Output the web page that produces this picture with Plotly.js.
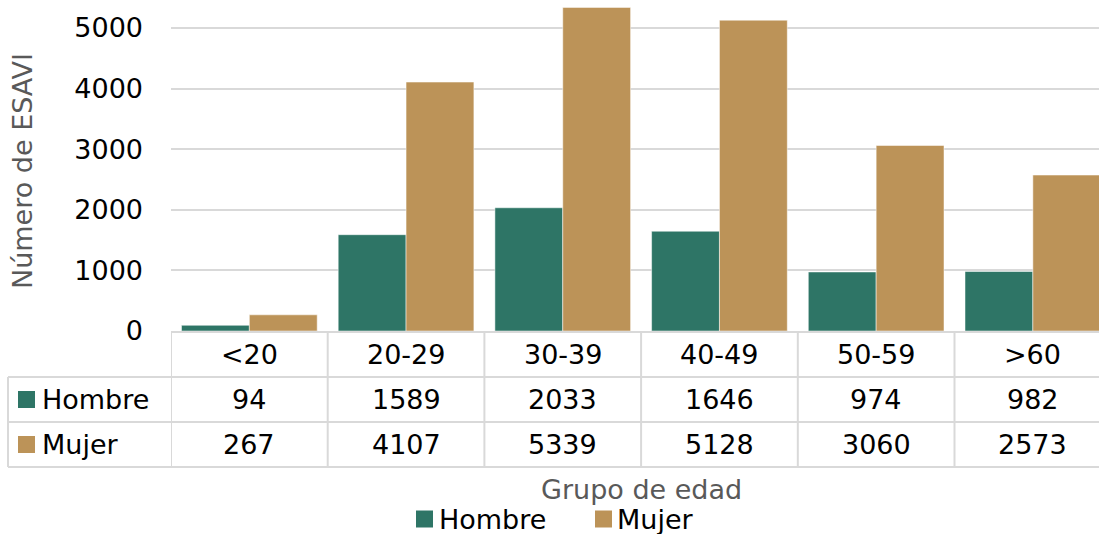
<!DOCTYPE html>
<html>
<head>
<meta charset="utf-8">
<script src="https://cdn.plot.ly/plotly-3.0.1.min.js"></script>
<style>html,body{margin:0;padding:0;background:#fff;}#chart{width:1099px;height:534px;}</style>
</head>
<body>
<div id="chart"></div>
<script>
var categories = ["<20", "20-29", "30-39", "40-49", "50-59", ">60"];
var seriesNames = ["Hombre", "Mujer"];
var hombre = [94, 1589, 2033, 1646, 974, 982];
var mujer = [267, 4107, 5339, 5128, 3060, 2573];
var yTickVals = [0, 1000, 2000, 3000, 4000, 5000];
var xTitle = "Grupo de edad";
var yTitle = "Número de ESAVI";
var colors = ["#2E7566", "#BC9358"];

var W = 1099, H = 534;
var L = 171, R = 0, T = 0, B = 203;
var pw = W - L - R, ph = H - T - B;
function xp(px) { return (px - L) / pw; }
function yp(py) { return (T + ph - py) / ph; }

var FONT = "DejaVu Sans, sans-serif";
var FS = 27;
var gridCol = "#d9d9d9";

var traces = [
  {type: "bar", name: seriesNames[0], x: categories, y: hombre,
   marker: {color: colors[0], line: {color: "#ffffff", width: 0.5}}},
  {type: "bar", name: seriesNames[1], x: categories, y: mujer,
   marker: {color: colors[1], line: {color: "#ffffff", width: 0.5}}}
];

var shapes = [];
var annotations = [];
var nCat = categories.length;
var rowTop = 331, rowHdr = 377, rowH = 422, rowM = 467;
var tableLeft = 8;

[rowHdr, rowH, rowM].forEach(function (py) {
  shapes.push({type: "line", xref: "paper", yref: "paper", x0: xp(tableLeft), x1: 1, y0: yp(py), y1: yp(py),
    line: {color: gridCol, width: 2}});
});
for (var i = 0; i <= nCat; i++) {
  shapes.push({type: "line", xref: "x", yref: "paper", x0: i - 0.5, x1: i - 0.5, y0: yp(rowTop), y1: yp(rowM),
    line: {color: gridCol, width: 2}});
}
shapes.push({type: "line", xref: "paper", yref: "paper", x0: xp(tableLeft), x1: xp(tableLeft), y0: yp(rowHdr), y1: yp(rowM),
  line: {color: gridCol, width: 2}});

var txtFont = {family: FONT, size: FS, color: "#000000"};
var rowCenters = [(rowHdr + rowH) / 2, (rowH + rowM) / 2];
var seriesData = [hombre, mujer];

categories.forEach(function (c, i) {
  annotations.push({xref: "x", yref: "paper", x: i, y: yp((rowTop + rowHdr) / 2), text: c, showarrow: false,
    xanchor: "center", yanchor: "middle", font: txtFont});
  seriesData.forEach(function (arr, s) {
    annotations.push({xref: "x", yref: "paper", x: i, y: yp(rowCenters[s]), text: String(arr[i]), showarrow: false,
      xanchor: "center", yanchor: "middle", font: txtFont});
  });
});

seriesNames.forEach(function (n, s) {
  var cy = rowCenters[s];
  shapes.push({type: "rect", xref: "paper", yref: "paper", x0: xp(18), x1: xp(35), y0: yp(cy + 8.5), y1: yp(cy - 8.5),
    fillcolor: colors[s], line: {width: 0}});
  annotations.push({xref: "paper", yref: "paper", x: xp(40), y: yp(cy), text: n, showarrow: false,
    xanchor: "left", yanchor: "middle", font: txtFont});
});

annotations.push({xref: "paper", yref: "paper", x: xp(641), y: yp(489), text: xTitle, showarrow: false,
  xanchor: "center", yanchor: "middle", font: {family: FONT, size: FS, color: "#595959"}});
annotations.push({xref: "paper", yref: "paper", x: xp(22), y: yp(171), text: yTitle, showarrow: false, textangle: -90,
  xanchor: "center", yanchor: "middle", font: {family: FONT, size: FS, color: "#595959"}});

var legItems = [{sq: 416, tx: 437}, {sq: 595, tx: 615}];
seriesNames.forEach(function (n, s) {
  var cy = 519;
  shapes.push({type: "rect", xref: "paper", yref: "paper", x0: xp(legItems[s].sq), x1: xp(legItems[s].sq + 17),
    y0: yp(cy + 8.5), y1: yp(cy - 8.5), fillcolor: colors[s], line: {width: 0}});
  annotations.push({xref: "paper", yref: "paper", x: xp(legItems[s].tx), y: yp(cy), text: n, showarrow: false,
    xanchor: "left", yanchor: "middle", font: txtFont});
});

var layout = {
  width: W, height: H,
  margin: {l: L, r: R, t: T, b: B, pad: 0},
  paper_bgcolor: "#ffffff", plot_bgcolor: "#ffffff",
  showlegend: false,
  barmode: "group", bargap: 0.134, bargroupgap: 0,
  font: {family: FONT, size: FS, color: "#000000"},
  xaxis: {type: "category", range: [-0.5, -0.5 + pw / 156.7], showticklabels: false, ticks: "",
    showgrid: false, showline: true, linecolor: gridCol, linewidth: 2, zeroline: false, fixedrange: true},
  yaxis: {range: [0, 5461], tickvals: yTickVals, ticktext: yTickVals.map(String), showgrid: true, gridcolor: gridCol,
    gridwidth: 2, zeroline: false, showline: false, ticks: "", ticklabelstandoff: 27,
    tickfont: {family: FONT, size: FS, color: "#000000"}, fixedrange: true},
  shapes: shapes,
  annotations: annotations
};

Plotly.newPlot("chart", traces, layout, {displayModeBar: false, staticPlot: true});
</script>
</body>
</html>
